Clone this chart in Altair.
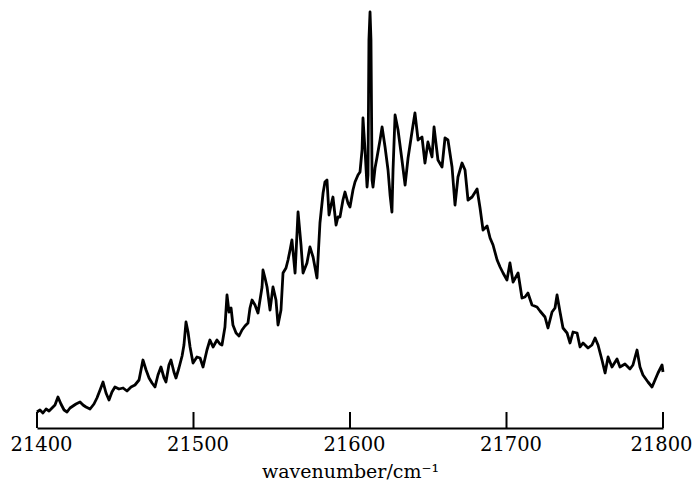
import altair as alt
import pandas as pd

# wavenumber (cm^-1)
wavenumber = [
    21400.0, 21401.9, 21403.8, 21405.8, 21407.7, 21409.6, 21411.5, 21413.4, 21415.3, 21417.3,
    21419.2, 21421.1, 21423.0, 21424.9, 21427.5, 21429.4, 21431.3, 21433.9, 21436.4, 21438.3,
    21440.3, 21442.2, 21444.1, 21446.0, 21447.9, 21449.8, 21452.4, 21455.0, 21457.5, 21460.1,
    21462.6, 21465.2, 21467.7, 21469.7, 21471.6, 21473.5, 21475.4, 21477.3, 21479.2, 21481.2,
    21482.4, 21484.3, 21485.6, 21487.5, 21488.8, 21490.7, 21492.7, 21493.9, 21495.2, 21496.5,
    21497.8, 21499.7, 21502.2, 21504.2, 21506.1, 21508.6, 21510.5, 21512.5, 21515.0, 21516.9,
    21518.2, 21520.1, 21521.4, 21522.7, 21524.0, 21525.2, 21527.2, 21529.1, 21531.0, 21532.9,
    21534.8, 21536.1, 21537.4, 21539.3, 21541.2, 21543.8, 21544.4, 21545.7, 21547.0, 21548.9,
    21550.8, 21552.7, 21554.0, 21555.9, 21557.2, 21559.1, 21560.4, 21561.7, 21562.9, 21564.9,
    21566.8, 21568.7, 21570.0, 21572.5, 21574.4, 21576.4, 21578.9, 21580.8, 21582.8, 21584.0,
    21585.3, 21586.6, 21587.9, 21589.1, 21591.1, 21592.3, 21593.6, 21595.5, 21596.8, 21598.7,
    21600.0, 21601.9, 21603.2, 21605.1, 21606.4, 21607.7, 21608.3, 21609.6, 21610.9, 21611.5,
    21612.1, 21612.8, 21613.4, 21614.1, 21614.7, 21616.0, 21617.3, 21619.2, 21620.5, 21622.4,
    21624.3, 21625.6, 21626.8, 21627.5, 21628.8, 21630.7, 21633.2, 21635.2, 21637.1, 21639.6,
    21641.5, 21643.5, 21646.0, 21647.9, 21649.8, 21652.4, 21653.7, 21656.2, 21658.8, 21660.7,
    21662.6, 21665.2, 21667.1, 21669.0, 21671.6, 21673.5, 21675.4, 21678.0, 21681.2, 21683.1,
    21685.0, 21687.6, 21689.5, 21691.4, 21694.0, 21695.9, 21697.8, 21700.3, 21702.2, 21704.2,
    21707.4, 21709.9, 21711.8, 21713.7, 21716.3, 21719.5, 21721.4, 21724.6, 21726.5, 21729.1,
    21731.0, 21732.3, 21734.2, 21736.1, 21738.7, 21740.6, 21742.5, 21745.1, 21747.0, 21748.9,
    21752.1, 21754.6, 21756.6, 21758.5, 21761.0, 21763.0, 21764.9, 21767.4, 21770.6, 21772.5,
    21775.7, 21778.9, 21780.8, 21783.4, 21785.3, 21787.2, 21790.4, 21793.0, 21794.9, 21796.8,
    21799.4, 21800.0,
]

# intensity (arbitrary units)
intensity = [
    16, 18, 15, 19, 17, 20, 23, 31, 24, 18,
    16, 20, 22, 24, 26, 23, 21, 19, 24, 30,
    38, 46, 35, 28, 36, 41, 39, 40, 37, 41,
    43, 48, 68, 58, 50, 45, 41, 53, 61, 50,
    46, 63, 68, 56, 50, 60, 72, 83, 106, 96,
    81, 65, 71, 70, 61, 78, 88, 81, 88, 84,
    83, 101, 133, 116, 120, 103, 95, 92, 98, 102,
    105, 120, 128, 123, 115, 141, 158, 150, 141, 118,
    141, 128, 103, 118, 155, 160, 168, 178, 188, 155,
    216, 183, 155, 165, 181, 171, 150, 205, 235, 246,
    248, 213, 223, 231, 203, 211, 211, 228, 236, 225,
    221, 238, 246, 253, 256, 278, 310, 278, 241, 253,
    388, 416, 388, 248, 241, 260, 271, 288, 301, 281,
    258, 233, 216, 258, 313, 298, 268, 243, 270, 296,
    315, 288, 291, 265, 286, 271, 301, 268, 261, 290,
    288, 261, 223, 251, 265, 258, 228, 231, 239, 220,
    198, 202, 190, 183, 168, 161, 155, 148, 165, 146,
    155, 130, 131, 135, 123, 121, 117, 111, 100, 116,
    120, 133, 116, 100, 95, 85, 96, 95, 81, 85,
    80, 83, 90, 83, 68, 55, 71, 61, 69, 61,
    64, 59, 63, 78, 61, 53, 46, 41, 48, 55,
    63, 56,
]

tick_values = [21400, 21500, 21600, 21700, 21800]

spec = pd.DataFrame({"wn": wavenumber, "I": intensity})
ticks = pd.DataFrame({"wn": tick_values})

FONT = "DejaVu Serif"

xscale = alt.Scale(domain=[21400, 21800], nice=False, zero=False)
yscale = alt.Scale(domain=[0, 418], nice=False, zero=True)

line = alt.Chart(spec).mark_line(color="black", strokeWidth=2.8, strokeJoin="round").encode(
    x=alt.X(
        "wn:Q",
        scale=xscale,
        axis=alt.Axis(
            title="wavenumber/cm\u207b\u00b9",
            values=tick_values,
            format="d",
            grid=False,
            ticks=False,
            tickSize=0,
            domainColor="black",
            domainWidth=2,
            labelFont=FONT,
            labelFontSize=19.5,
            labelColor="black",
            labelPadding=7,
            labelFlush=False,
            labelOverlap=False,
            labelOffset={"condition": {"test": "datum.value >= 21800", "value": -2}, "value": 4},
            titleFont=FONT,
            titleFontSize=19,
            titleFontWeight="normal",
            titleColor="black",
            titlePadding=9,
        ),
    ),
    y=alt.Y("I:Q", scale=yscale, axis=None),
)

tick_rules = alt.Chart(ticks).mark_rule(color="black", strokeWidth=2).encode(
    x=alt.X("wn:Q", scale=xscale),
    y=alt.value(402),
    y2=alt.value(418),
)

chart = (
    alt.layer(line, tick_rules)
    .properties(
        width=626,
        height=418,
        background="white",
        autosize=alt.AutoSizeParams(type="none"),
        padding={"left": 29, "top": 2, "right": 29, "bottom": 56},
    )
    .configure_view(strokeWidth=0, stroke=None)
)

chart.save("out.html", embed_options={"renderer": "svg", "actions": False})
